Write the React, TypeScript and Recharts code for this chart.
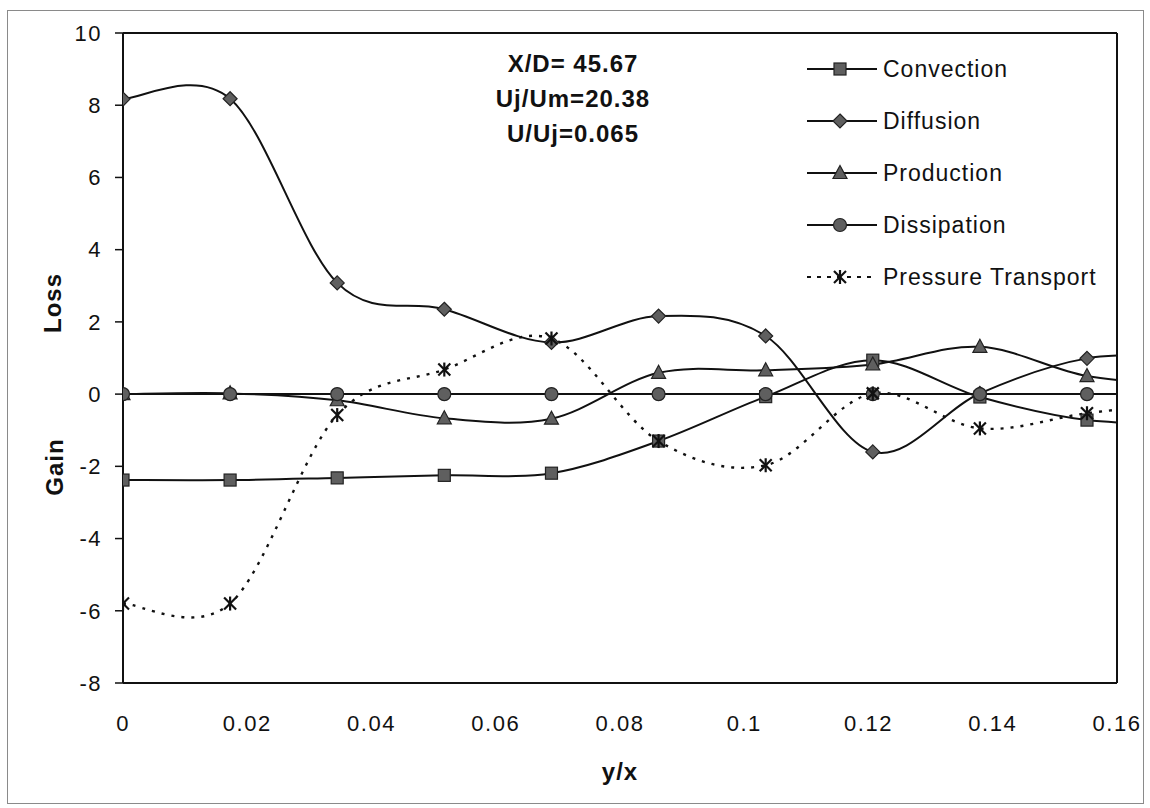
import { LineChart, Line, XAxis, YAxis, ReferenceLine, Legend } from 'recharts'

// y/x stations of the traverse (last one lies just past the axis end)
const Y_OVER_X = [0, 0.01724, 0.03448, 0.05172, 0.06897, 0.08621, 0.10345, 0.12069, 0.13793, 0.15517, 0.17241]

const CONVECTION = [-2.38, -2.38, -2.32, -2.25, -2.19, -1.3, -0.07, 0.94, -0.08, -0.72, -0.82]
const DIFFUSION = [8.17, 8.18, 3.08, 2.35, 1.43, 2.16, 1.61, -1.6, 0.02, 0.99, 1.05]
const PRODUCTION = [0.0, 0.02, -0.17, -0.67, -0.68, 0.59, 0.66, 0.82, 1.31, 0.5, 0.25]
const DISSIPATION = [0, 0, 0, 0, 0, 0, 0, 0, 0, 0, 0]
const PRESSURE_TRANSPORT = [-5.8, -5.8, -0.58, 0.68, 1.54, -1.3, -1.97, 0.02, -0.95, -0.53, -0.2]

const X_TICKS = [0, 0.02, 0.04, 0.06, 0.08, 0.1, 0.12, 0.14, 0.16]
const Y_TICKS = [-8, -6, -4, -2, 0, 2, 4, 6, 8, 10]

const INFO_LINES = ['X/D= 45.67', 'Uj/Um=20.38', 'U/Uj=0.065']

type Marker = 'square' | 'diamond' | 'triangle' | 'circle' | 'star'

interface SeriesDef {
  key: string
  name: string
  marker: Marker
  dashed?: boolean
}

const SERIES: SeriesDef[] = [
  { key: 'convection', name: 'Convection', marker: 'square' },
  { key: 'diffusion', name: 'Diffusion', marker: 'diamond' },
  { key: 'production', name: 'Production', marker: 'triangle' },
  { key: 'dissipation', name: 'Dissipation', marker: 'circle' },
  { key: 'pressure', name: 'Pressure Transport', marker: 'star', dashed: true },
]

const data = Y_OVER_X.map((yx, i) => ({
  yx,
  convection: CONVECTION[i],
  diffusion: DIFFUSION[i],
  production: PRODUCTION[i],
  dissipation: DISSIPATION[i],
  pressure: PRESSURE_TRANSPORT[i],
}))

const FONT = '"Liberation Sans", Arial, sans-serif'
const INK = '#111'
const MARK_FILL = '#5f5f5f'

// spreadsheet-style smoothed line: bezier segments with 1/6 tangents
function smoothCurve(context: any) {
  let pts: [number, number][] = []
  return {
    areaStart() {},
    areaEnd() {},
    lineStart() {
      pts = []
    },
    point(x: number, y: number) {
      pts.push([+x, +y])
    },
    lineEnd() {
      const n = pts.length
      if (!n) return
      context.moveTo(pts[0][0], pts[0][1])
      for (let i = 0; i < n - 1; i++) {
        const p0 = pts[Math.max(i - 1, 0)]
        const p1 = pts[i]
        const p2 = pts[i + 1]
        const p3 = pts[Math.min(i + 2, n - 1)]
        context.bezierCurveTo(
          p1[0] + (p2[0] - p0[0]) / 6,
          p1[1] + (p2[1] - p0[1]) / 6,
          p2[0] - (p3[0] - p1[0]) / 6,
          p2[1] - (p3[1] - p1[1]) / 6,
          p2[0],
          p2[1],
        )
      }
    },
  }
}

function MarkerShape({ kind, cx, cy }: { kind: Marker; cx: number; cy: number }) {
  const common = { fill: MARK_FILL, stroke: '#222', strokeWidth: 1.2 }
  switch (kind) {
    case 'square':
      return <rect x={cx - 6} y={cy - 6} width={12} height={12} {...common} />
    case 'diamond':
      return <path d={`M${cx},${cy - 7}L${cx + 7},${cy}L${cx},${cy + 7}L${cx - 7},${cy}Z`} {...common} />
    case 'triangle':
      return <path d={`M${cx},${cy - 7.5}L${cx + 7},${cy + 5.5}L${cx - 7},${cy + 5.5}Z`} {...common} />
    case 'circle':
      return <circle cx={cx} cy={cy} r={6.5} {...common} />
    case 'star':
      return (
        <g stroke={INK} strokeWidth={2.2}>
          <line x1={cx - 6} y1={cy - 6} x2={cx + 6} y2={cy + 6} />
          <line x1={cx - 6} y1={cy + 6} x2={cx + 6} y2={cy - 6} />
          <line x1={cx} y1={cy - 7} x2={cx} y2={cy + 7} />
        </g>
      )
  }
}

const makeDot = (kind: Marker) => (p: any) => (
  <g key={`${kind}-${p.index}`}>
    <MarkerShape kind={kind} cx={p.cx} cy={p.cy} />
  </g>
)

function LegendBox() {
  return (
    <div style={{ fontFamily: FONT }}>
      {SERIES.map((s) => (
        <div key={s.key} style={{ display: 'flex', alignItems: 'center', height: 52 }}>
          <svg width={78} height={24}>
            <line
              x1={2}
              y1={12}
              x2={72}
              y2={12}
              stroke={INK}
              strokeWidth={s.dashed ? 2 : 2}
              strokeDasharray={s.dashed ? '4 6' : undefined}
            />
            <MarkerShape kind={s.marker} cx={35} cy={12} />
          </svg>
          <span style={{ fontSize: 23, letterSpacing: 1, color: INK }}>{s.name}</span>
        </div>
      ))}
    </div>
  )
}

const titleStyle = {
  position: 'absolute' as const,
  fontFamily: FONT,
  fontWeight: 700,
  fontSize: 24,
  letterSpacing: 1,
  color: INK,
  whiteSpace: 'nowrap' as const,
}

const tickStyle = { fontSize: 22, fill: INK, fontFamily: FONT, letterSpacing: 1.5 }

export default function App() {
  return (
    <div style={{ position: 'absolute', left: 0, top: 0, width: 1150, height: 808, background: '#fff' }}>
      <div
        style={{ position: 'absolute', left: 7, top: 10, width: 1135, height: 792, border: '1px solid #8a8a8a' }}
      />
      <LineChart
        width={1150}
        height={808}
        data={data}
        margin={{ top: 33, right: 33, bottom: 85, left: 0 }}
        style={{ position: 'absolute', left: 0, top: 0 }}
      >
        <XAxis
          type="number"
          dataKey="yx"
          domain={[0, 0.16]}
          allowDataOverflow
          ticks={X_TICKS}
          interval={0}
          height={40}
          tickLine={false}
          tickSize={8}
          tickMargin={24}
          axisLine={{ stroke: INK, strokeWidth: 2 }}
          tick={tickStyle}
        />
        <YAxis
          type="number"
          domain={[-8, 10]}
          ticks={Y_TICKS}
          interval={0}
          width={123}
          tickSize={8}
          tickMargin={13}
          axisLine={{ stroke: INK, strokeWidth: 2 }}
          tickLine={{ stroke: INK, strokeWidth: 1.5 }}
          tick={tickStyle}
        />
        <ReferenceLine y={10} stroke={INK} strokeWidth={2} />
        <ReferenceLine x={0.16} stroke={INK} strokeWidth={2} />
        <Legend
          layout="vertical"
          align="center"
          verticalAlign="middle"
          content={() => <LegendBox />}
          wrapperStyle={{ top: 43, left: 805, width: 330 }}
        />
        {SERIES.map((s) => (
          <Line
            key={s.key}
            dataKey={s.key}
            name={s.name}
            type={smoothCurve as any}
            stroke={INK}
            strokeWidth={s.dashed ? 2.4 : 2}
            strokeDasharray={s.dashed ? '3 7' : undefined}
            dot={makeDot(s.marker)}
            activeDot={false}
            isAnimationActive={false}
          />
        ))}
      </LineChart>
      <div style={{ ...titleStyle, left: 453, top: 46, width: 240, textAlign: 'center', lineHeight: '35px' }}>
        {INFO_LINES.map((t) => (
          <div key={t}>{t}</div>
        ))}
      </div>
      <div style={{ ...titleStyle, left: 53, top: 303, transform: 'translate(-50%, -50%) rotate(-90deg)' }}>Loss</div>
      <div style={{ ...titleStyle, left: 55, top: 467, transform: 'translate(-50%, -50%) rotate(-90deg)' }}>Gain</div>
      <div style={{ ...titleStyle, left: 620, top: 772, transform: 'translate(-50%, -50%)' }}>y/x</div>
    </div>
  )
}
